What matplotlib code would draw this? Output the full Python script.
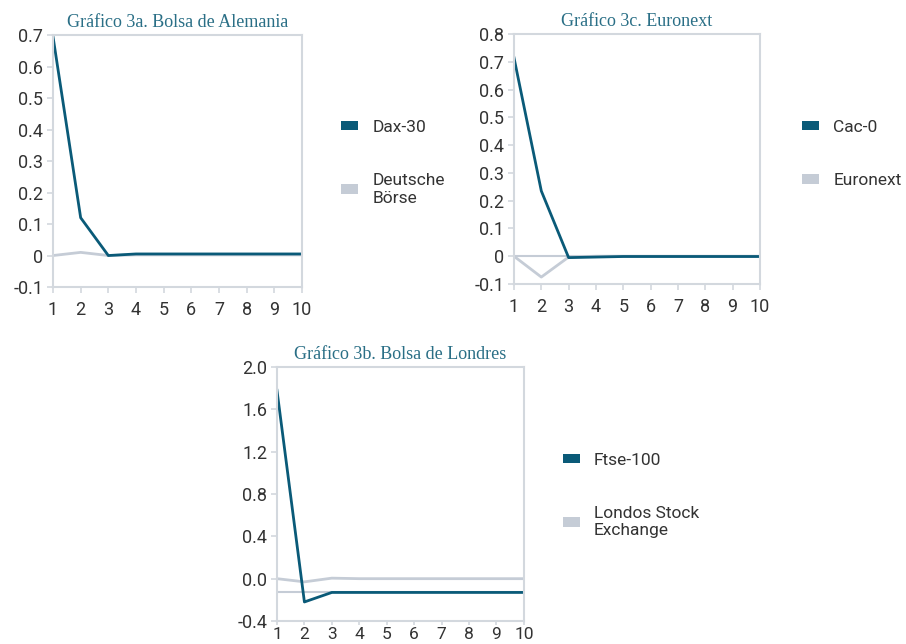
import matplotlib.pyplot as plt
from matplotlib.patches import Patch

periods = list(range(1, 11))

dax = [0.695, 0.12, 0.0, 0.005, 0.005, 0.005, 0.005, 0.005, 0.005, 0.005]
deutsche = [0.0, 0.01, 0.0, 0.002, 0.002, 0.002, 0.002, 0.002, 0.002, 0.002]

cac = [0.715, 0.235, -0.005, -0.003, -0.001, -0.001, -0.001, -0.001, -0.001, -0.001]
euronext = [0.0, -0.075, -0.003, 0.0, 0.0, 0.0, 0.0, 0.0, 0.0, 0.0]
euronext_base = 0.0

ftse = [1.78, -0.22, -0.13, -0.13, -0.13, -0.13, -0.13, -0.13, -0.13, -0.13]
londos = [0.0, -0.03, 0.005, 0.0, 0.0, 0.0, 0.0, 0.0, 0.0, 0.0]
ftse_base = -0.13

DARK = '#0a5a78'
LIGHT = '#c5ccd6'
SPINE = '#d3d8de'
TITLE = '#2a6f86'
TEXT = '#333333'

plt.rcParams['font.family'] = ['Roboto', 'DejaVu Sans']


def style_axes(ax, title, ylim, yticks, ylabels, xpad=6):
    ax.set_xlim(1, 10)
    ax.set_ylim(*ylim)
    ax.set_xticks(periods)
    ax.set_yticks(yticks)
    ax.set_yticklabels(ylabels)
    for s in ax.spines.values():
        s.set_color(SPINE)
        s.set_linewidth(1.5)
    ax.tick_params(colors=SPINE, labelcolor=TEXT, labelsize=13, length=4, width=1.2, pad=3)
    ax.tick_params(axis='x', pad=xpad)
    ax.set_title(title, fontsize=13, color=TITLE, family='Liberation Serif', pad=6)


def add_legend(fig, ax, labels, x, y):
    handles = [Patch(facecolor=DARK, edgecolor='none'), Patch(facecolor=LIGHT, edgecolor='none')]
    fig.legend(handles, labels, loc='upper left', bbox_to_anchor=(x, y), frameon=False,
               fontsize=12.5, labelspacing=2.2, handlelength=1.0, handleheight=0.45,
               handletextpad=0.8, labelcolor=TEXT)


fig = plt.figure(figsize=(9.06, 6.44), dpi=100)

# Grafico 3a
ax1 = fig.add_axes([0.0585, 0.5543, 0.2748, 0.3913])
ax1.plot(periods, deutsche, color=LIGHT, lw=2)
ax1.plot(periods, dax, color=DARK, lw=2)
yt = [-0.1, 0, 0.1, 0.2, 0.3, 0.4, 0.5, 0.6, 0.7]
style_axes(ax1, 'Gráfico 3a. Bolsa de Alemania', (-0.1, 0.7), yt,
           ['-0.1', '0', '0.1', '0.2', '0.3', '0.4', '0.5', '0.6', '0.7'])
add_legend(fig, ax1, ['Dax-30', 'Deutsche\nBörse'], 0.359, 0.838)

# Grafico 3c
ax2 = fig.add_axes([0.5673, 0.559, 0.2715, 0.3882])
ax2.axhline(euronext_base, color=LIGHT, lw=1.5)
ax2.plot(periods, euronext, color=LIGHT, lw=2)
ax2.plot(periods, cac, color=DARK, lw=2)
yt = [-0.1, 0, 0.1, 0.2, 0.3, 0.4, 0.5, 0.6, 0.7, 0.8]
style_axes(ax2, 'Gráfico 3c. Euronext', (-0.1, 0.8), yt,
           ['-0.1', '0', '0.1', '0.2', '0.3', '0.4', '0.5', '0.6', '0.7', '0.8'])
add_legend(fig, ax2, ['Cac-0', 'Euronext'], 0.868, 0.838)

# Grafico 3b
ax3 = fig.add_axes([0.3057, 0.0357, 0.2726, 0.3944])
ax3.axhline(ftse_base, color=LIGHT, lw=1.5)
ax3.plot(periods, londos, color=LIGHT, lw=2)
ax3.plot(periods, ftse, color=DARK, lw=2)
yt = [-0.4, 0.0, 0.4, 0.8, 1.2, 1.6, 2.0]
style_axes(ax3, 'Gráfico 3b. Bolsa de Londres', (-0.4, 2.0), yt,
           ['-0.4', '0.0', '0.4', '0.8', '1.2', '1.6', '2.0'], xpad=1)
ax3.tick_params(axis='x', labelsize=12.5, length=3)
add_legend(fig, ax3, ['Ftse-100', 'Londos Stock\nExchange'], 0.604, 0.321)

fig.savefig('out.png', dpi=100)
